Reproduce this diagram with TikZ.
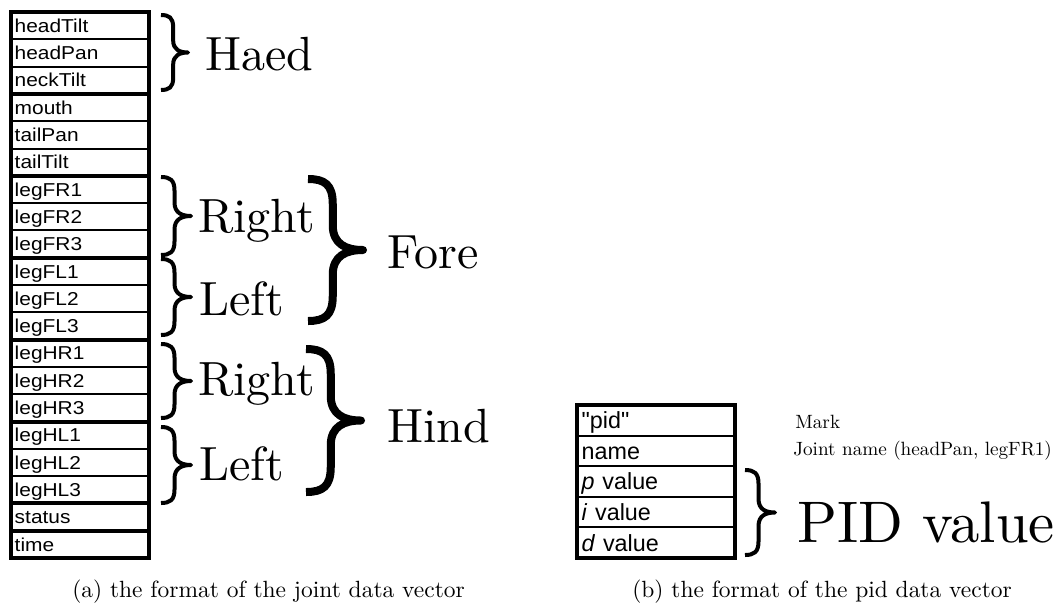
\documentclass[tikz,border=0pt]{standalone}
\usepackage{fontspec}
\newfontfamily\arialf{Liberation Sans}
\newfontfamily\lmten{lmroman10-regular.otf}
\usepackage{graphicx}
% right brace drawn as a stroked path: x0, top, bottom, width, line width
\newcommand\myrbrace[5]{%
  \draw[line width=#5, line cap=butt, line join=round]
    (#1,#2) .. controls ({#1+0.3*#4},#2) and ({#1+0.45*#4},{#2+0.1*#4}) .. ({#1+0.45*#4},{#2+0.45*#4})
    -- ({#1+0.45*#4},{(#2+#3)/2-0.45*#4})
    .. controls ({#1+0.45*#4},{(#2+#3)/2-0.1*#4}) and ({#1+0.7*#4},{(#2+#3)/2}) .. ({#1+#4},{(#2+#3)/2})
    .. controls ({#1+0.7*#4},{(#2+#3)/2}) and ({#1+0.45*#4},{(#2+#3)/2+0.1*#4}) .. ({#1+0.45*#4},{(#2+#3)/2+0.45*#4})
    -- ({#1+0.45*#4},{#3-0.45*#4})
    .. controls ({#1+0.45*#4},{#3-0.1*#4}) and ({#1+0.3*#4},#3) .. (#1,#3);}
\begin{document}
\begin{tikzpicture}[x=0.75pt,y=-0.75pt,
  cell/.style={draw, line width=1.5pt, outer sep=0pt, inner ysep=0pt, inner xsep=2.6pt,
    text width=98.1pt, align=left, minimum height=20.475pt,
    font=\arialf\fontsize{14}{16}\selectfont, text height=10pt, text depth=0pt},
  pcell/.style={draw, line width=1.5pt, outer sep=0pt, inner ysep=0pt, inner xsep=3.5pt,
    text width=111.5pt, align=left, minimum height=22.95pt,
    font=\arialf\fontsize{17.5}{20}\selectfont, text height=12.5pt, text depth=0pt},
  grp/.style={draw, line width=3pt},
  big/.style={inner sep=0pt, anchor=base west, font=\lmten\fontsize{36}{40}\selectfont},
  captxt/.style={inner sep=0pt, anchor=base west, font=\lmten\fontsize{17.6}{20}\selectfont},
  note/.style={inner sep=0pt, anchor=base west, font=\lmten\fontsize{14.4}{16}\selectfont}]
\useasboundingbox (0,0) rectangle (1059,608);
% left vector
\foreach \t [count=\i] in {headTilt,headPan,neckTilt,mouth,tailPan,tailTilt,legFR1,legFR2,legFR3,legFL1,legFL2,legFL3,legHR1,legHR2,legHR3,legHL1,legHL2,legHL3,status,time}
  \node[cell] (r\i) at (80.15, {12+27.3*(\i-0.5)}) {\scalebox{1.12}[1]{\t}};
\foreach \a/\b in {1/3,4/6,7/9,10/12,13/15,16/18,19/19,20/20}
  \draw[grp] (r\a.north west) rectangle (r\b.south east);
% braces
\myrbrace{161}{15}{90}{27}{3pt}
\myrbrace{161}{177}{255}{30}{3pt}
\myrbrace{161}{259}{335}{30}{3pt}
\myrbrace{161}{344}{418}{30}{3pt}
\myrbrace{161}{427}{503}{30}{3pt}
\myrbrace{308}{179}{321}{55}{6pt}
\myrbrace{306}{349}{492}{55}{6pt}
% labels
\node[big] (thead) at (205,70) {Haed};
\node[big] (tfr) at (198,232) {Right};
\node[big] (tfl) at (199,315) {Left};
\node[big] (thr) at (198,395) {Right};
\node[big] (thl) at (199,480) {Left};
\node[big] (tfore) at (387,268) {Fore};
\node[big] (thind) at (387,442) {Hind};
% pid vector
\foreach \t [count=\i] in {"pid",name,\textit{p} value,\textit{i} value,\textit{d} value}
  \node[pcell] (p\i) at (656, {405+30.6*(\i-0.5)}) {\t};
\draw[grp] (p1.north west) rectangle (p5.south east);
\myrbrace{745}{470}{555}{30}{3pt}
\node[inner sep=0pt, anchor=base west, font=\lmten\fontsize{44}{48}\selectfont] (tpid) at (797,542) {PID value};
\node[note] (tmark) at (795,428) {Mark};
\node[note] (tjoint) at (793,455) {Joint name (headPan, legFR1)};
% captions
\node[captxt] (capa) at (72,597) {(a) the format of the joint data vector};
\node[captxt] (capb) at (632,597) {(b) the format of the pid data vector};
\end{tikzpicture}
\end{document}
